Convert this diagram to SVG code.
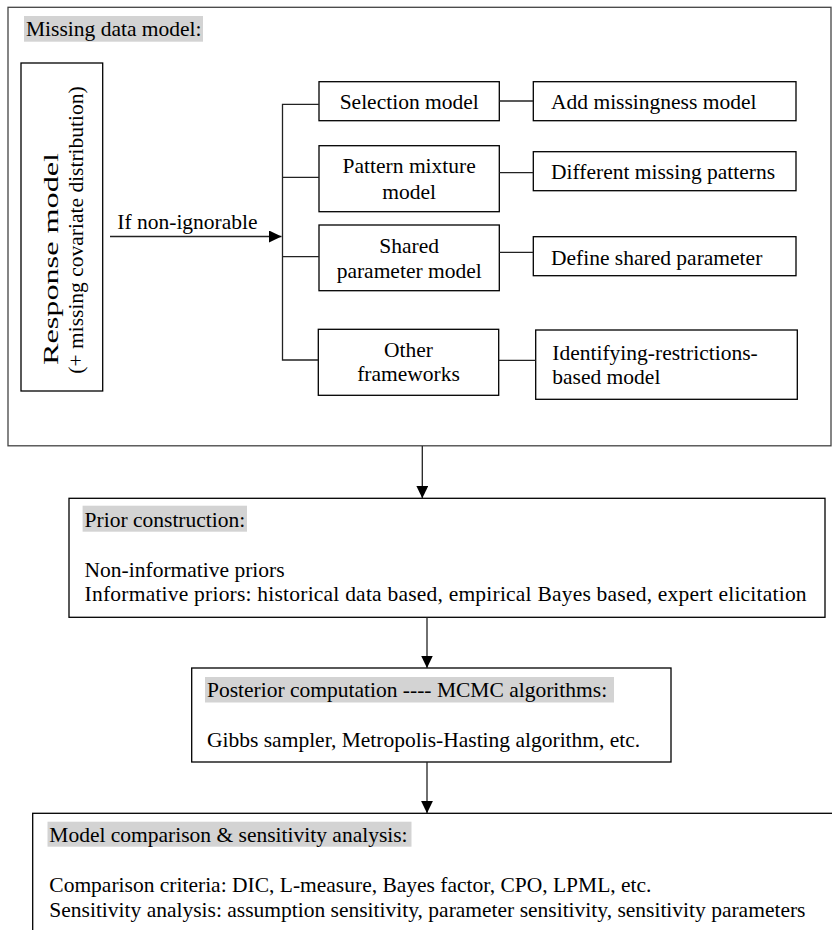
<svg xmlns="http://www.w3.org/2000/svg" width="832" height="930" viewBox="0 0 832 930">
<defs>
<style>
text{font-family:"Liberation Serif","Times New Roman",serif;font-size:21.5px;fill:#000}
.box{fill:#fff;stroke:#000;stroke-width:1.3}
.outer{fill:none;stroke:#444;stroke-width:1.3}
.hl{fill:#d3d3d3}
.ln{fill:none;stroke:#222;stroke-width:1.3}
.c{text-anchor:middle}
</style>
<marker id="ah" markerUnits="userSpaceOnUse" markerWidth="13" markerHeight="12" refX="12.5" refY="6" orient="auto">
<path d="M0,0 L12.5,6 L0,12 Z" fill="#000"/>
</marker>
</defs>
<rect width="832" height="930" fill="#fff"/>

<g id="missing-data-model">
<rect class="outer" x="8" y="7.3" width="823" height="438.5"/>
<rect class="hl" x="24" y="16" width="179" height="25.7"/>
<text x="26" y="35.5">Missing data model:</text>
</g>

<g id="response-model">
<rect class="box" x="21" y="63" width="81.7" height="328"/>
<text transform="translate(58.3,365) rotate(-90)" textLength="212" lengthAdjust="spacingAndGlyphs">Response model</text>
<text transform="translate(82.5,230) rotate(-90)" class="c">(+ missing covariate distribution)</text>
</g>

<g id="selection-model">
<rect class="box" x="319" y="81.7" width="180.3" height="39"/>
<text x="409.2" y="109.3" class="c">Selection model</text>
</g>
<g id="pattern-mixture-model">
<rect class="box" x="319" y="145.7" width="180.3" height="66"/>
<text x="409.2" y="173.3" class="c">Pattern mixture</text>
<text x="409.2" y="199.3" class="c">model</text>
</g>
<g id="shared-parameter-model">
<rect class="box" x="319" y="225" width="180.3" height="65.7"/>
<text x="409.2" y="253.3" class="c">Shared</text>
<text x="409.2" y="278.3" class="c">parameter model</text>
</g>
<g id="other-frameworks">
<rect class="box" x="318.3" y="329.3" width="180.4" height="66"/>
<text x="408.5" y="357.3" class="c">Other</text>
<text x="408.5" y="381" class="c">frameworks</text>
</g>

<g id="add-missingness-model">
<rect class="box" x="533.3" y="81.7" width="262.7" height="39"/>
<text x="551" y="109.3">Add missingness model</text>
</g>
<g id="different-missing-patterns">
<rect class="box" x="533.3" y="151.7" width="262.7" height="39"/>
<text x="551" y="179.3">Different missing patterns</text>
</g>
<g id="define-shared-parameter">
<rect class="box" x="533.3" y="236.7" width="262.7" height="39"/>
<text x="551" y="265">Define shared parameter</text>
</g>
<g id="identifying-restrictions">
<rect class="box" x="535.7" y="330" width="261.6" height="69.3"/>
<text x="552.3" y="360">Identifying-restrictions-</text>
<text x="552.3" y="384">based model</text>
</g>

<g id="prior-construction">
<rect class="box" x="69" y="498.3" width="756" height="119"/>
<rect class="hl" x="82.6" y="505.7" width="164.4" height="26"/>
<text x="84.6" y="527">Prior construction:</text>
<text x="84.6" y="577">Non-informative priors</text>
<text x="84.6" y="601" textLength="722" lengthAdjust="spacing">Informative priors: historical data based, empirical Bayes based, expert elicitation</text>
</g>

<g id="posterior-computation">
<rect class="box" x="191.7" y="668" width="479.3" height="94"/>
<rect class="hl" x="205" y="677" width="409" height="25.5"/>
<text x="207" y="697">Posterior computation ---- MCMC algorithms:</text>
<text x="207" y="747">Gibbs sampler, Metropolis-Hasting algorithm, etc.</text>
</g>

<g id="model-comparison">
<rect class="box" x="32.7" y="813.3" width="820" height="140"/>
<rect class="hl" x="47.5" y="821.7" width="364" height="25"/>
<text x="49.3" y="841.7">Model comparison &amp; sensitivity analysis:</text>
<text x="49.3" y="891.7">Comparison criteria: DIC, L-measure, Bayes factor, CPO, LPML, etc.</text>
<text x="49.3" y="916.7">Sensitivity analysis: assumption sensitivity, parameter sensitivity, sensitivity parameters</text>
</g>

<g id="connectors">
<line class="ln" x1="110" y1="236.5" x2="281.5" y2="236.5" marker-end="url(#ah)"/>
<text x="117.3" y="229.3">If non-ignorable</text>
<path class="ln" d="M319,104.3 H282.5 V360 H318.3 M282.5,177.3 H319 M282.5,256.7 H319"/>
<line class="ln" x1="499.3" y1="101" x2="533.3" y2="101"/>
<line class="ln" x1="499.3" y1="172.7" x2="533.3" y2="172.7"/>
<line class="ln" x1="499.3" y1="252.3" x2="533.3" y2="252.3"/>
<line class="ln" x1="498.7" y1="360.3" x2="535.7" y2="360.3"/>
<line class="ln" x1="422.3" y1="446" x2="422.3" y2="498.3" marker-end="url(#ah)"/>
<line class="ln" x1="427" y1="617.3" x2="427" y2="668" marker-end="url(#ah)"/>
<line class="ln" x1="427" y1="762" x2="427" y2="813.3" marker-end="url(#ah)"/>
</g>
</svg>
